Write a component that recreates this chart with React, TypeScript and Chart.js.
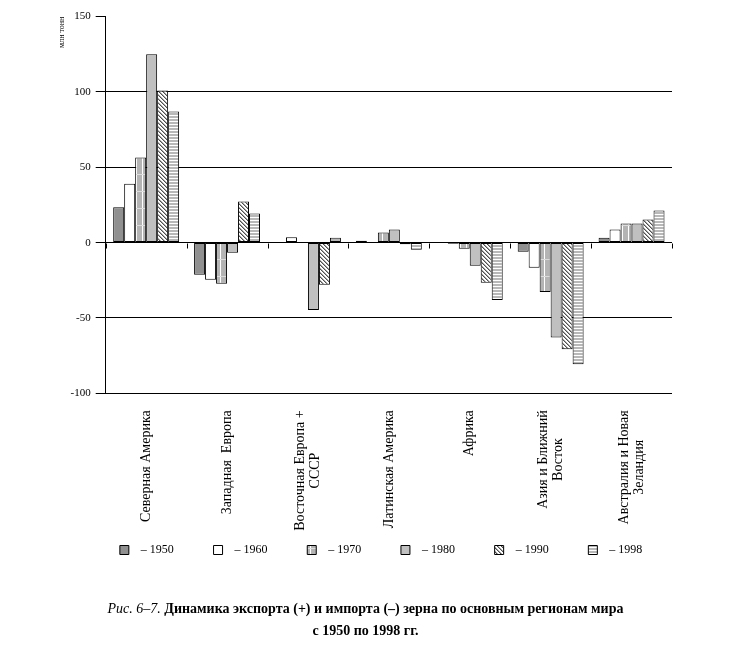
import React, { useEffect, useRef } from "react";
import { Chart, registerables } from "chart.js";

Chart.register(...registerables);

const categories: string[][] = [
  ["Северная Америка"],
  ["Западная  Европа"],
  ["Восточная Европа +", "СССР"],
  ["Латинская Америка"],
  ["Африка"],
  ["Азия и Ближний", "Восток"],
  ["Австралия и Новая", "Зеландия"],
];

const years = ["1950", "1960", "1970", "1980", "1990", "1998"];

const v1950 = [23.5, -21.3, 0, 1.3, 0, -6, 3.3];
const v1960 = [39, -24.7, 3.5, 0, -0.7, -16.7, 8.7];
const v1970 = [56.5, -27.3, 0, 6.7, -4, -32.7, 12.7];
const v1980 = [125, -6.7, -44.7, 8.7, -15.3, -63, 12.7];
const v1990 = [101, 27.3, -28, -1, -26.7, -70.7, 15.3];
const v1998 = [87, 19.3, 3.3, -4.7, -38, -80.7, 21.3];

const yTicks = [150, 100, 50, 0, -50, -100];

const SERIF = "'Liberation Serif', 'Times New Roman', serif";

function makePattern(w: number, h: number, draw: (c: CanvasRenderingContext2D) => void) {
  const cv = document.createElement("canvas");
  cv.width = w;
  cv.height = h;
  const c = cv.getContext("2d")!;
  draw(c);
  return c.createPattern(cv, "repeat")!;
}

export default function App() {
  const ref = useRef<HTMLCanvasElement>(null);

  useEffect(() => {
    if (!ref.current) return;

    const pVert = makePattern(6, 17, (c) => {
      c.fillStyle = "#b4b4b4";
      c.fillRect(0, 0, 6, 17);
      c.fillStyle = "#ffffff";
      c.fillRect(2, 0, 1, 17);
      c.fillStyle = "#dcdcdc";
      c.fillRect(0, 16, 6, 1);
    });
    const pDiag = makePattern(4, 4, (c) => {
      c.fillStyle = "#ffffff";
      c.fillRect(0, 0, 4, 4);
      for (let i = 0; i < 4; i++) {
        c.fillStyle = "#505050";
        c.fillRect(i, i, 1, 1);
        c.fillStyle = "#a8a8a8";
        c.fillRect((i + 1) % 4, i, 1, 1);
      }
    });
    const pHoriz = makePattern(8, 3, (c) => {
      c.fillStyle = "#b8b8b8";
      c.fillRect(0, 0, 8, 3);
      c.fillStyle = "#ffffff";
      c.fillRect(0, 2, 8, 1);
    });

    const fills: any[] = ["#909090", "#ffffff", pVert, "#c0c0c0", pDiag, pHoriz];
    const series = [v1950, v1960, v1970, v1980, v1990, v1998];

    const labelPlugin = {
      id: "catLabels",
      afterDatasetsDraw(chart: any) {
        const ctx = chart.ctx as CanvasRenderingContext2D;
        const xs = chart.scales.x;
        const ys = chart.scales.y;
        const y0 = Math.round(ys.getPixelForValue(0)) + 0.5;
        ctx.save();
        ctx.strokeStyle = "#000";
        ctx.lineWidth = 1;
        const n = categories.length;
        for (let i = 0; i <= n; i++) {
          const x = Math.round(xs.left + (i * xs.width) / n) + 0.5;
          ctx.beginPath();
          ctx.moveTo(x, y0);
          ctx.lineTo(x, y0 + 5);
          ctx.stroke();
        }
        ctx.restore();
      },
      afterDraw(chart: any) {
        const ctx = chart.ctx as CanvasRenderingContext2D;
        const xs = chart.scales.x;
        const top = chart.chartArea.bottom + 17;
        const lineH = 15;
        ctx.save();
        ctx.font = `14px ${SERIF}`;
        ctx.fillStyle = "#000";
        categories.forEach((lines, i) => {
          const cx = xs.getPixelForValue(i);
          const maxW = Math.max(...lines.map((l) => ctx.measureText(l).width));
          lines.forEach((line, j) => {
            ctx.save();
            ctx.translate(cx + (j - (lines.length - 1) / 2) * lineH, top + maxW / 2);
            ctx.rotate(-Math.PI / 2);
            ctx.textAlign = "center";
            ctx.textBaseline = "middle";
            ctx.fillText(line, 0, 0);
            ctx.restore();
          });
        });
        ctx.restore();
      },
    };

    const chart = new Chart(ref.current, {
      type: "bar",
      data: {
        labels: categories.map((l) => l.join(" ")),
        datasets: series.map((d, i) => ({
          label: "  – " + years[i],
          data: d,
          backgroundColor: fills[i],
          borderColor: "#000",
          borderWidth: 1,
          borderSkipped: false,
          categoryPercentage: 0.815,
          barPercentage: 1,
        })),
      },
      options: {
        responsive: false,
        animation: false,
        events: [],
        layout: { padding: { left: 41.7, right: 10.5, top: 8, bottom: 39 } },
        plugins: {
          tooltip: { enabled: false },
          legend: {
            position: "bottom",
            labels: {
              boxWidth: 9,
              boxHeight: 9,
              padding: 39.7,
              color: "#000",
              font: { family: SERIF, size: 12 },
            },
          },
        },
        scales: {
          x: {
            grid: { display: false },
            border: { display: false },
            ticks: { display: false },
            afterFit: (s: any) => {
              s.height = 111;
            },
          },
          y: {
            min: -100,
            max: 150,
            afterBuildTicks: (s: any) => {
              s.ticks = yTicks.map((v) => ({ value: v }));
            },
            ticks: {
              color: "#000",
              padding: 5,
              font: { family: SERIF, size: 11 },
            },
            grid: {
              color: (c: any) => (c.tick && c.tick.value === 150 ? "rgba(0,0,0,0)" : "#000"),
              tickColor: "#000",
              tickLength: 10,
              lineWidth: 1,
            },
            border: { display: true, color: "#000", width: 1 },
            title: {
              display: true,
              text: "млн тонн",
              align: "end",
              color: "#000",
              font: { family: SERIF, size: 8 },
              padding: { top: 7, bottom: 4 },
            },
            afterFit: (s: any) => {
              s.width = 56;
            },
          },
          yRight: {
            position: "right",
            display: true,
            grid: { display: false },
            border: { display: false },
            ticks: { display: false },
            afterFit: (s: any) => {
              s.width = 40.5;
            },
          },
        },
      },
      plugins: [labelPlugin],
    });

    return () => chart.destroy();
  }, []);

  return (
    <div style={{ position: "relative", width: 715, height: 640, marginTop: -3 }}>
      <canvas ref={ref} width={715} height={600} style={{ display: "block" }} />
      <div
        style={{
          position: "absolute",
          top: 593,
          left: 0,
          width: 715,
          textAlign: "center",
          fontFamily: SERIF,
          fontSize: 14,
          lineHeight: "22px",
          color: "#000",
        }}
      >
        <div>
          <i>Рис. 6–7.</i> <b>Динамика экспорта (+) и импорта (–) зерна по основным регионам мира</b>
        </div>
        <div>
          <b>с 1950 по 1998 гг.</b>
        </div>
      </div>
    </div>
  );
}
